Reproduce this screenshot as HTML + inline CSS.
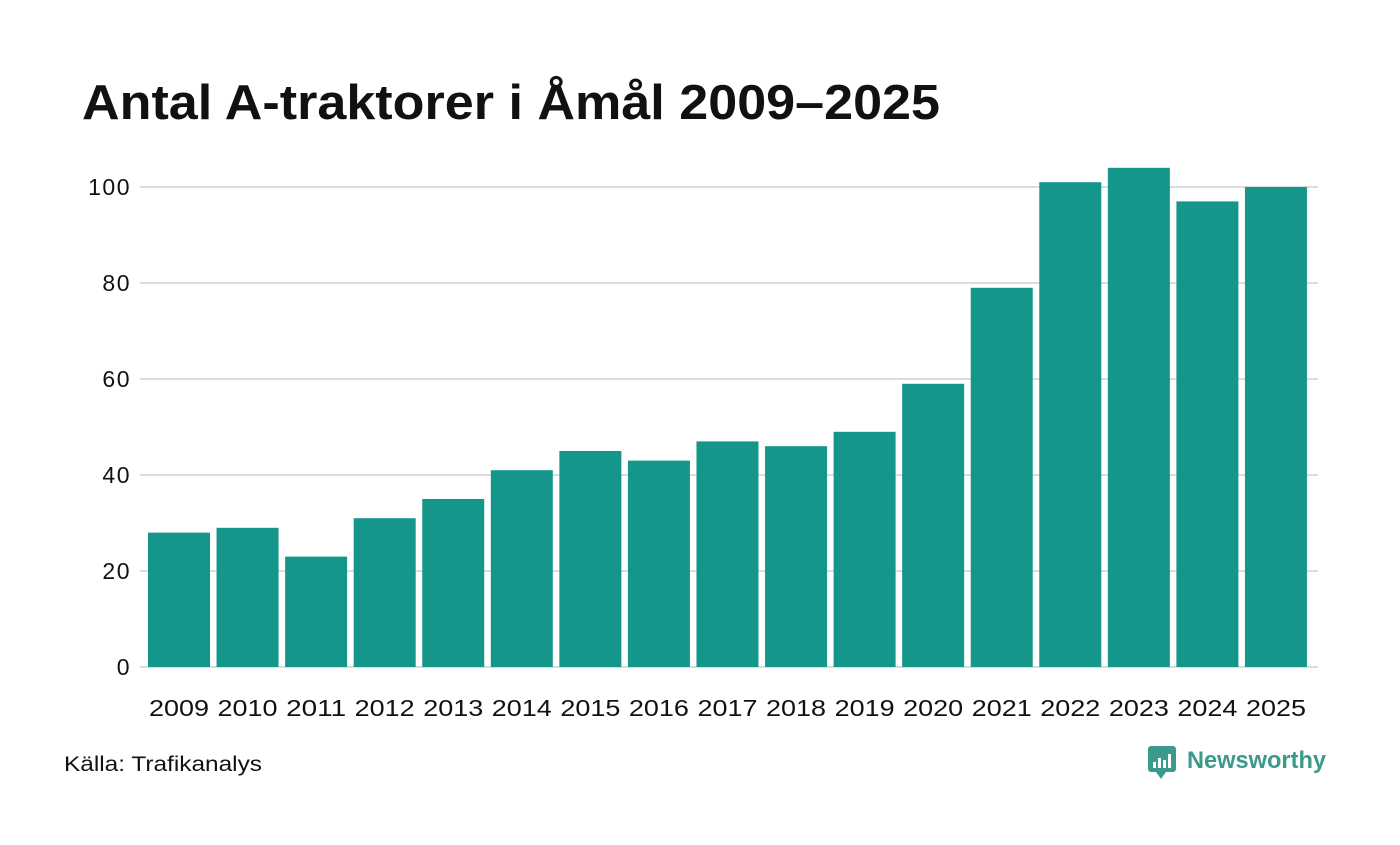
<!DOCTYPE html>
<html><head><meta charset="utf-8"><style>
html,body{margin:0;padding:0;background:#fff;}
body{width:1400px;height:840px;position:relative;overflow:hidden;font-family:"Liberation Sans",sans-serif;}
</style></head><body>
<svg width="1400" height="840" xmlns="http://www.w3.org/2000/svg">
<text x="82" y="119" font-size="49" font-weight="bold" fill="#111" font-family="Liberation Sans, sans-serif" textLength="858" lengthAdjust="spacingAndGlyphs">Antal A-traktorer i Åmål 2009–2025</text>
<g id="grid"></g><g id="bars"></g><g id="xlab"></g>
<text x="64" y="771" font-size="21" fill="#111" textLength="198" lengthAdjust="spacingAndGlyphs">Källa: Trafikanalys</text>
<g>
<rect x="1148" y="746" width="28" height="26" rx="3" fill="#3a9a8c"/>
<polygon points="1156,772 1166,772 1161,779" fill="#3a9a8c"/>
<rect x="1153" y="762" width="3" height="6" fill="#fff"/><rect x="1158" y="758" width="3" height="10" fill="#fff"/><rect x="1163" y="760" width="3" height="8" fill="#fff"/><rect x="1168" y="754" width="3" height="14" fill="#fff"/>
<text x="1187" y="768" font-size="24" font-weight="bold" fill="#3a9a8c" textLength="139" lengthAdjust="spacingAndGlyphs">Newsworthy</text>
</g>
</svg>
<script>
const years=["2009","2010","2011","2012","2013","2014","2015","2016","2017","2018","2019","2020","2021","2022","2023","2024","2025"];
const values=[28,29,23,31,35,41,45,43,47,46,49,59,79,101,104,97,100];
const yTicks=[0,20,40,60,80,100];
const NS="http://www.w3.org/2000/svg";
const y0=667, pxPerUnit=4.8, x0=148, step=68.56, bw=62;
const yS=v=>y0-v*pxPerUnit;
const xS=i=>x0+i*step;
const grid=document.getElementById('grid'),bars=document.getElementById('bars'),xl=document.getElementById('xlab');
yTicks.forEach(t=>{
 const l=document.createElementNS(NS,'line');
 l.setAttribute('x1',140);l.setAttribute('x2',1318);l.setAttribute('y1',yS(t));l.setAttribute('y2',yS(t));
 l.setAttribute('stroke','#dcdcdc');l.setAttribute('stroke-width',2);
 
 
 grid.appendChild(l);
 const tx=document.createElementNS(NS,'text');
 tx.setAttribute('x',131);tx.setAttribute('y',yS(t)+8);tx.setAttribute('text-anchor','end');
 tx.setAttribute('font-size',23);tx.setAttribute('fill','#111');tx.textContent=t;
 tx.setAttribute('letter-spacing','1.5');
 
 
 grid.appendChild(tx);
});
values.forEach((v,i)=>{
 const r=document.createElementNS(NS,'rect');
 r.setAttribute('x',xS(i));r.setAttribute('width',bw);r.setAttribute('y',yS(v));r.setAttribute('height',v*pxPerUnit);
 r.setAttribute('fill','#14968a');
 
 
 bars.appendChild(r);
 const tx=document.createElementNS(NS,'text');
 tx.setAttribute('x',xS(i)+bw/2);tx.setAttribute('y',716);tx.setAttribute('text-anchor','middle');
 tx.setAttribute('font-size',23);tx.setAttribute('fill','#111');tx.textContent=years[i];
 tx.setAttribute('textLength',60);tx.setAttribute('lengthAdjust','spacingAndGlyphs');
 
 
 xl.appendChild(tx);
});
</script>
</body></html>
